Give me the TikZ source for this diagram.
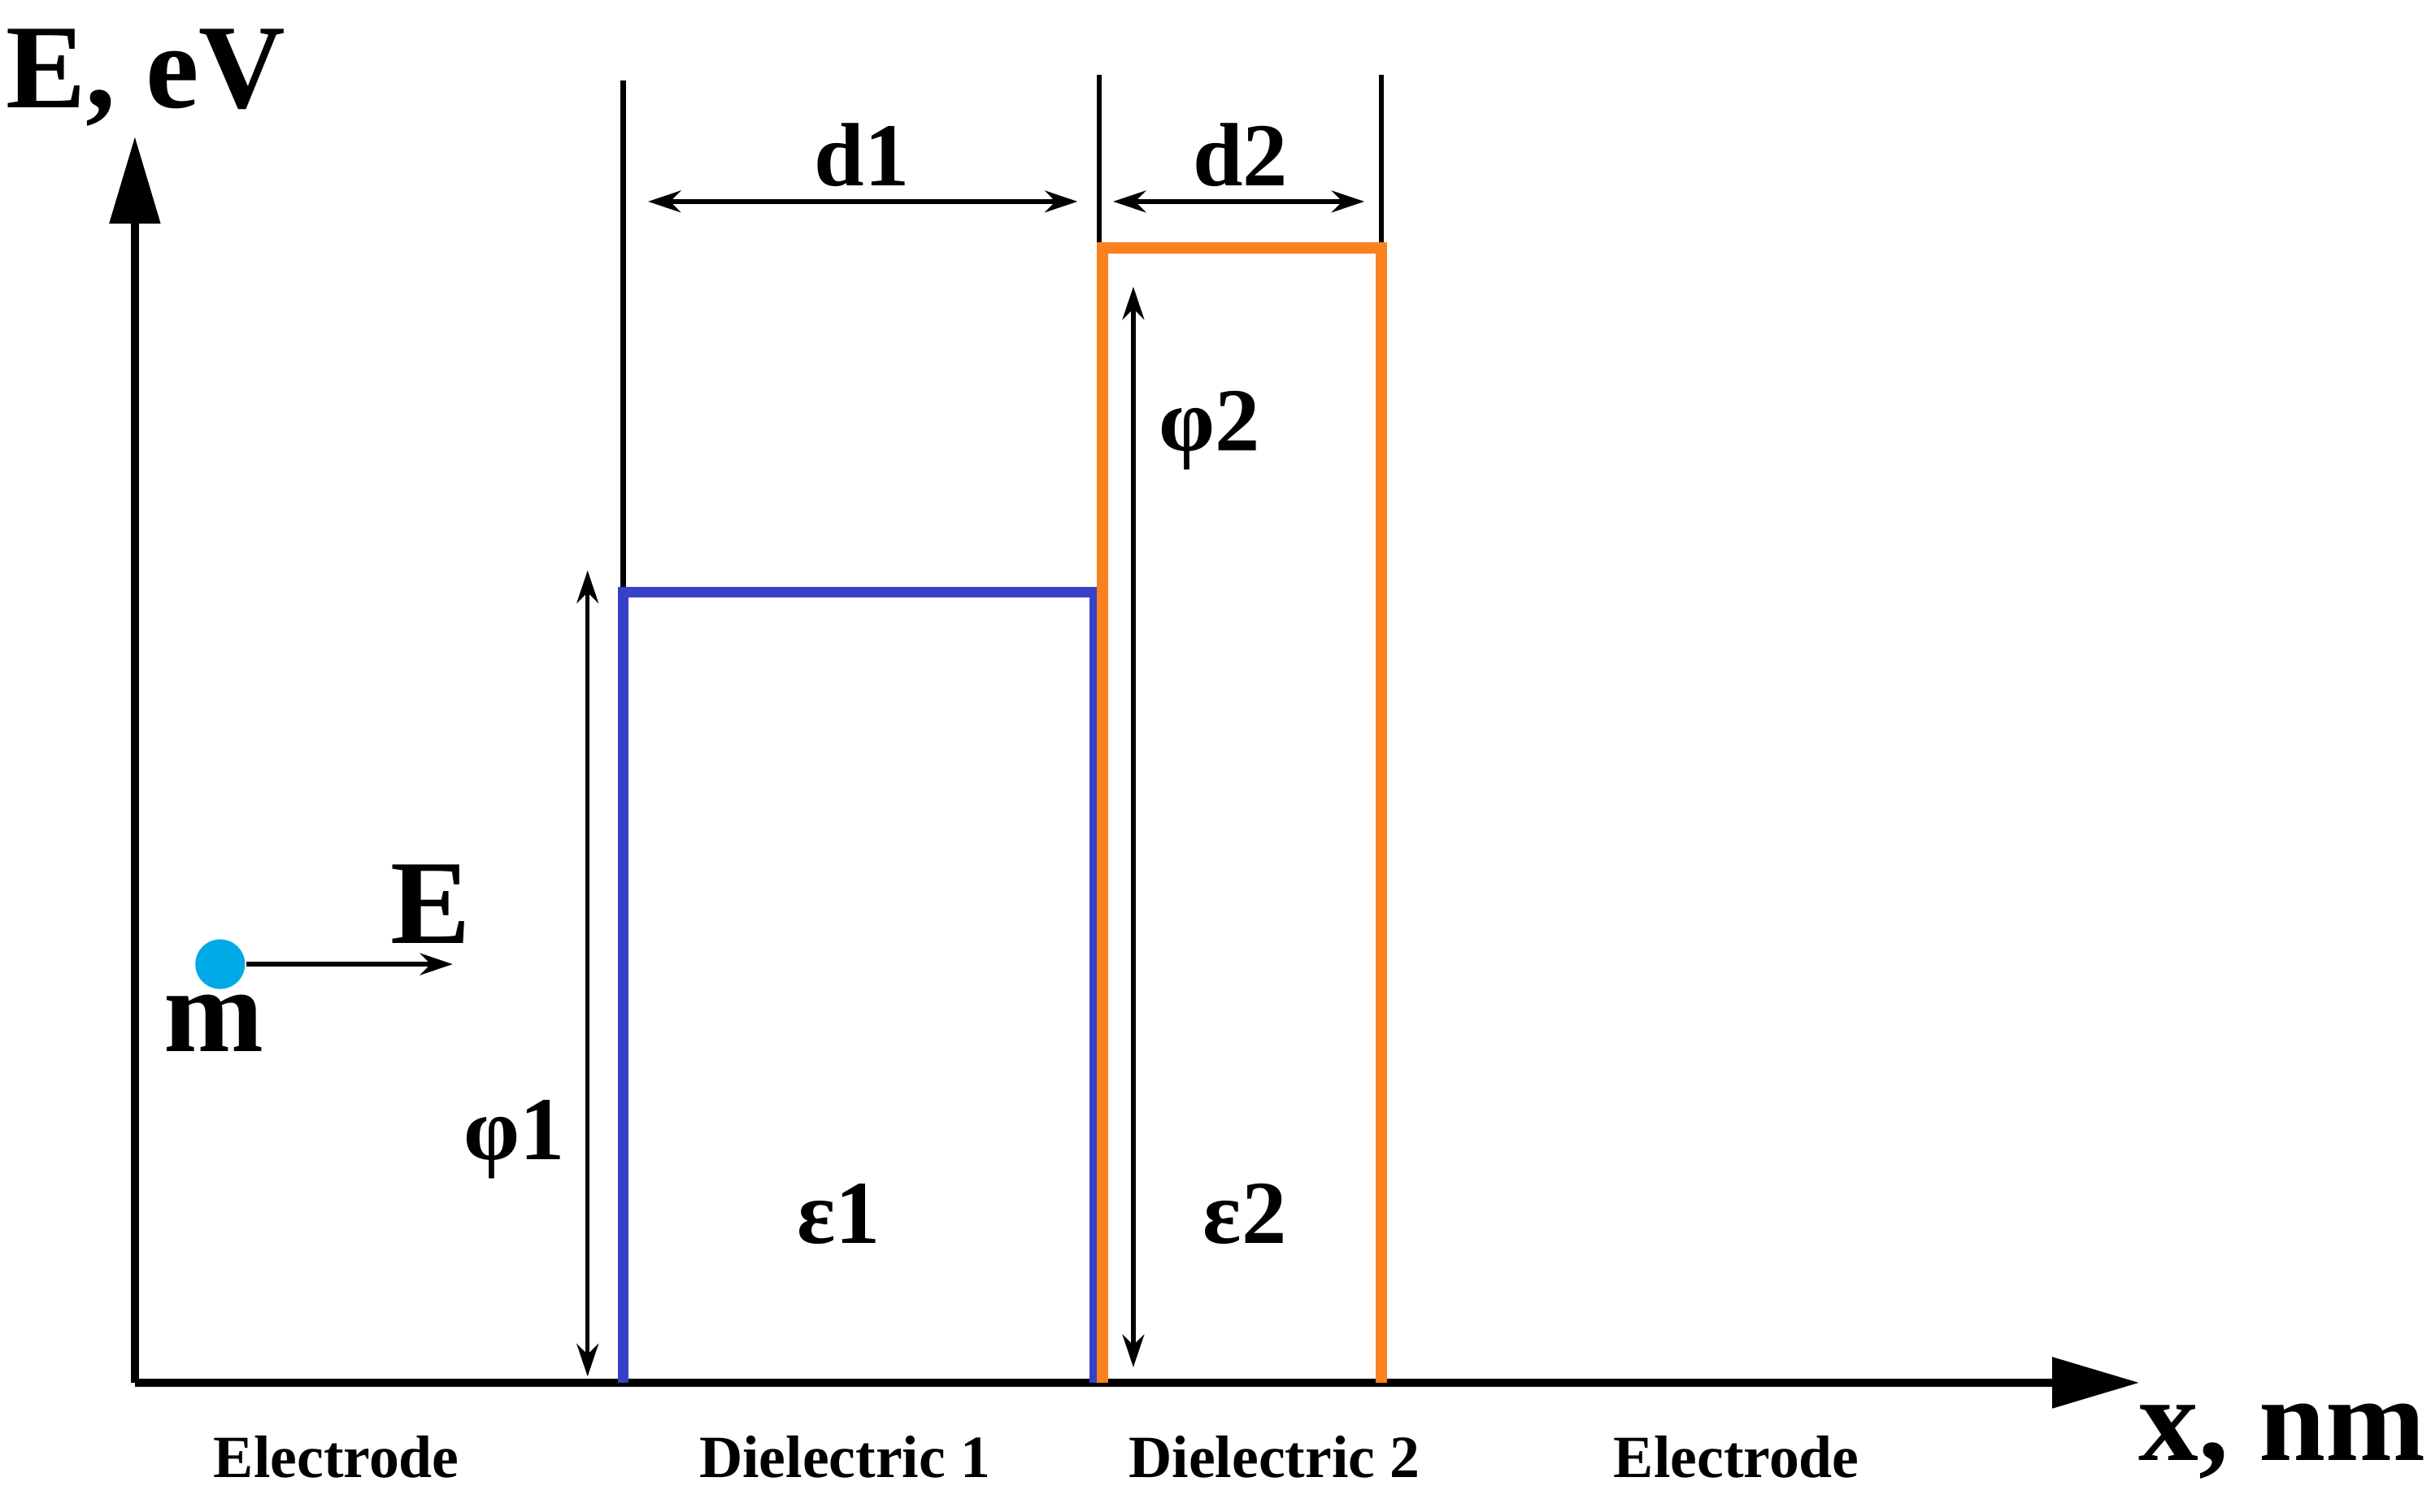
\documentclass[tikz,border=0pt]{standalone}
\usepackage{fontspec}
\setmainfont{Liberation Serif}
\usetikzlibrary{arrows.meta}
\definecolor{bar1}{RGB}{55,65,200}
\definecolor{bar2}{RGB}{250,130,30}
\definecolor{dotc}{RGB}{0,170,230}
\begin{document}
\begin{tikzpicture}[x=0.01cm,y=-0.01cm,
  lab/.style={font=\bfseries\fontsize{16.5}{18}\selectfont},
  big/.style={font=\bfseries\fontsize{22}{24}\selectfont},
  small/.style={font=\bfseries\fontsize{11}{13}\selectfont},
  dim/.style={{Stealth[length=6pt,width=4pt]}-{Stealth[length=6pt,width=4pt]},line width=0.8pt},
  axis/.style={line width=1.6pt,-{Triangle[length=16pt,width=9pt]}}]
\useasboundingbox (0,0) rectangle (1568,975);
\coordinate (O) at (87,892);
\coordinate (Ytop) at (87,88);
\coordinate (Xend) at (1380,892);
\draw[axis] (O) -- (Ytop);
\draw[axis] (O) -- (Xend);
\node[big] (ylab) at (94,50) {E, eV};
\node[big] (xlab) at (1472,930) {x, nm};
% guide lines
\draw[line width=1pt] (402,52) -- (402,382);
\draw[line width=1pt] (709,48) -- (709,892);
\draw[line width=1pt] (891,48) -- (891,160);
% barriers
\draw[bar1,line width=2pt] (402,892) -- (402,382) -- (706,382) -- (706,892);
\draw[bar2,line width=2pt] (711,892) -- (711,160) -- (891,160) -- (891,892);
% dimensions
\coordinate (d1a) at (418,130); \coordinate (d1b) at (695,130);
\draw[dim] (d1a) -- (d1b);
\node[lab] (d1) at (556,100) {d1};
\coordinate (d2a) at (718,130); \coordinate (d2b) at (880,130);
\draw[dim] (d2a) -- (d2b);
\node[lab] (d2) at (800,100) {d2};
\coordinate (p1a) at (379,368); \coordinate (p1b) at (379,888);
\draw[dim] (p1a) -- (p1b);
\node[lab] (phi1) at (332,735) {φ1};
\coordinate (p2a) at (731,185); \coordinate (p2b) at (731,882);
\draw[dim] (p2a) -- (p2b);
\node[lab] (phi2) at (780,278) {φ2};
\node[lab] (eps1) at (541,783) {ε1};
\node[lab] (eps2) at (803,783) {ε2};
% electron
\node[circle,fill=dotc,minimum size=0.32cm,inner sep=0pt] (dot) at (142,622) {};
\coordinate (Earr) at (292,622);
\draw[line width=0.9pt,-{Stealth[length=6pt,width=4pt]}] (dot) -- (Earr);
\node[big] (E) at (278,583) {E};
\node[big] (m) at (138,660) {m};
% bottom labels
\node[small] (el1) at (217,940) {Electrode};
\node[small] (di1) at (545,940) {Dielectric 1};
\node[small] (di2) at (822,940) {Dielectric 2};
\node[small] (el2) at (1120,940) {Electrode};
\end{tikzpicture}
\end{document}
